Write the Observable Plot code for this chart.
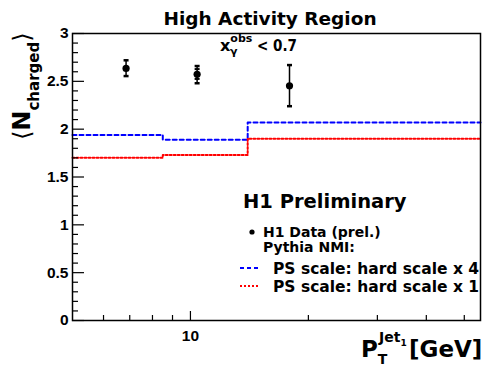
<!DOCTYPE html>
<html><head><meta charset="utf-8">
<script src="https://cdn.jsdelivr.net/npm/d3@7"></script>
<script src="https://cdn.jsdelivr.net/npm/@observablehq/plot@0.6"></script>
<style>body{margin:0;background:#fff} svg{display:block;overflow:visible}</style>
</head><body><div id="chart"></div>
<script>
// ---- data ----
const binEdges   = [5, 8.5, 14, 55];          // p_T^{Jet1} bin edges [GeV]
const hardScale4 = [1.94, 1.89, 2.07];        // Pythia NMI, hard scale x 4
const hardScale1 = [1.70, 1.73, 1.90];        // Pythia NMI, hard scale x 1
const dataPt     = [6.85, 10.4, 17.9];        // H1 data point positions
const dataN      = [2.635, 2.573, 2.454];     // <N_charged>
const dataHi     = [2.72, 2.66, 2.67];        // total error up
const dataLo     = [2.555, 2.48, 2.24];       // total error down
const statHi     = [2.69, 2.628, 2.52];
const statLo     = [2.585, 2.525, 2.39];
const yMajor = [0, 0.5, 1, 1.5, 2, 2.5, 3];
const yMinor = [0.1,0.2,0.3,0.4,0.6,0.7,0.8,0.9,1.1,1.2,1.3,1.4,1.6,1.7,1.8,1.9,2.1,2.2,2.3,2.4,2.6,2.7,2.8,2.9];
const xMajor = [10];
const xMinor = [6, 7, 8, 9, 20, 30, 40, 50];
const xLabels = ["10"];

const W = 491, H = 374, mL = 72, mR = 11, mT = 33, mB = 54;
const fw = W - mL - mR, fh = H - mT - mB;
const FONT = "DejaVu Sans";
const TICKFONT = "Liberation Sans";

const step = vals => binEdges.map((e, i) => ({x: e, y: vals[Math.min(i, vals.length - 1)]}));
const pts = dataPt.map((x, i) => ({x, y: dataN[i], hi: dataHi[i], lo: dataLo[i], shi: statHi[i], slo: statLo[i]}));
const cap = {draw(ctx) { ctx.moveTo(-2.5, 0); ctx.lineTo(2.5, 0); }};

const chart = Plot.plot({
  width: W, height: H,
  marginLeft: mL, marginRight: mR, marginTop: mT, marginBottom: mB,
  style: {fontFamily: FONT, background: "white"},
  x: {type: "log", domain: [5, 55], axis: null},
  y: {domain: [0, 3], axis: null},
  marks: [
    Plot.line(step(hardScale4), {x: "x", y: "y", curve: "step-after", stroke: "#0000ff", strokeWidth: 2, strokeDasharray: "4,3"}),
    Plot.line(step(hardScale1), {x: "x", y: "y", curve: "step-after", stroke: "#ff0000", strokeWidth: 2, strokeDasharray: "2,2"}),
    Plot.ruleX(pts, {x: "x", y1: "lo", y2: "hi", stroke: "black", strokeWidth: 1.5}),
    Plot.dot(pts, {x: "x", y: "hi", symbol: cap, stroke: "black", strokeWidth: 2.5, r: 3}),
    Plot.dot(pts, {x: "x", y: "lo", symbol: cap, stroke: "black", strokeWidth: 2.5, r: 3}),
    Plot.dot(pts.slice(1, 2), {x: "x", y: "shi", symbol: cap, stroke: "black", strokeWidth: 2, r: 3}),
    Plot.dot(pts.slice(1, 2), {x: "x", y: "slo", symbol: cap, stroke: "black", strokeWidth: 2, r: 3}),
    Plot.dot(pts, {x: "x", y: "y", r: 3.6, fill: "black"}),
    // ticks (inside the frame, ROOT style)
    Plot.tickY(yMajor, {y: d => d, insetRight: fw - 12, stroke: "black", strokeWidth: 1.2}),
    Plot.tickY(yMinor, {y: d => d, insetRight: fw - 6, stroke: "black", strokeWidth: 1.2}),
    Plot.tickX(xMajor, {x: d => d, insetTop: fh - 9, stroke: "black", strokeWidth: 1.2}),
    Plot.tickX(xMinor, {x: d => d, insetTop: fh - 5, stroke: "black", strokeWidth: 1.2}),
    Plot.text(yMajor, {y: d => d, text: d => String(d), frameAnchor: "left", dx: -4, textAnchor: "end", fontSize: 15.5, fontWeight: "bold", fontFamily: TICKFONT, fill: "black"}),
    Plot.text(xMajor, {x: d => d, text: (d, i) => xLabels[i], frameAnchor: "bottom", dy: 20, fontSize: 15.5, fontWeight: "bold", fontFamily: TICKFONT, fill: "black"}),
    Plot.frame({stroke: "black", strokeWidth: 1.5})
  ]
});
document.getElementById("chart").appendChild(chart);

// ---- text annotations with sub/superscripts ----
const svg = d3.select(chart);
const g = svg.append("g").attr("font-family", FONT).attr("font-weight", "bold").attr("fill", "black").attr("text-anchor", "start");

g.append("text").attr("x", 270).attr("y", 25).attr("text-anchor", "middle").attr("font-size", 18.5).text("High Activity Region");

// x_gamma^obs < 0.7
const ann = g.append("text").attr("x", 220).attr("y", 51).attr("font-size", 16);
ann.append("tspan").text("x");
ann.append("tspan").attr("font-size", 11).attr("dy", -9).text("obs");
ann.append("tspan").attr("font-size", 11).attr("x", 230).attr("dy", 13).text("γ");
g.append("text").attr("x", 257).attr("y", 51).attr("font-size", 16)
  .attr("textLength", 40).attr("lengthAdjust", "spacingAndGlyphs").text("< 0.7");

// y axis label
const yl = g.append("text").attr("transform", "translate(30,140) rotate(-90)").attr("font-size", 24);
yl.append("tspan").attr("font-weight", "normal").text("⟨");
yl.append("tspan").text("N");
yl.append("tspan").attr("font-size", 15).attr("dy", 9).text("charged");
yl.append("tspan").attr("font-weight", "normal").attr("dy", -9).text("⟩");

// x axis label
const xl = g.append("text").attr("x", 361).attr("y", 357).attr("font-size", 23);
xl.append("tspan").text("P");
xl.append("tspan").attr("font-size", 14).attr("dy", 7).text("T");
xl.append("tspan").attr("font-size", 14).attr("x", 379).attr("dy", -22).text("Jet");
xl.append("tspan").attr("font-size", 9).attr("dy", 4).text("1");
xl.append("tspan").attr("x", 409).attr("dy", 11).text("[GeV]");

// legend
g.append("text").attr("x", 243).attr("y", 208).attr("font-size", 19.5).text("H1 Preliminary");
g.append("circle").attr("cx", 252).attr("cy", 232).attr("r", 2.6);
g.append("text").attr("x", 263).attr("y", 237).attr("font-size", 14).text("H1 Data (prel.)");
g.append("text").attr("x", 263).attr("y", 252).attr("font-size", 14).text("Pythia NMI:");
g.append("line").attr("x1", 240).attr("x2", 260).attr("y1", 268).attr("y2", 268).attr("stroke", "#0000ff").attr("stroke-width", 2).attr("stroke-dasharray", "4,3");
g.append("text").attr("x", 273).attr("y", 274).attr("font-size", 15.5).text("PS scale: hard scale x 4");
g.append("line").attr("x1", 240).attr("x2", 260).attr("y1", 286).attr("y2", 286).attr("stroke", "#ff0000").attr("stroke-width", 2).attr("stroke-dasharray", "2,2");
g.append("text").attr("x", 273).attr("y", 292).attr("font-size", 15.5).text("PS scale: hard scale x 1");
</script>
</body></html>
